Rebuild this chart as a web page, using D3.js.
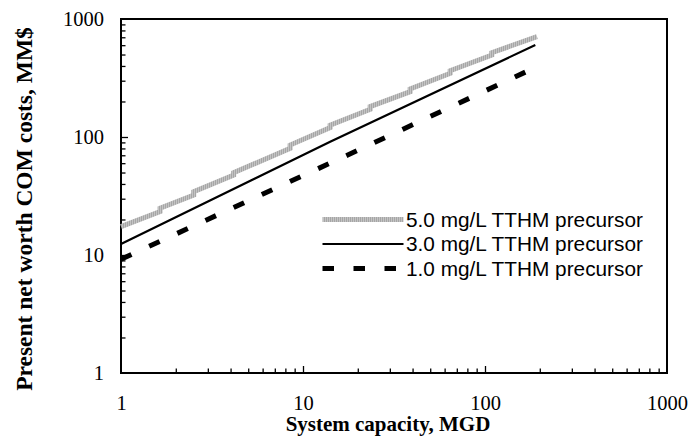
<!DOCTYPE html>
<html>
<head>
<meta charset="utf-8">
<script src="https://cdn.jsdelivr.net/npm/d3@7"></script>
<style>
  body { margin: 0; background: #fff; }
  .tickText { font-family: "Times New Roman", "Liberation Serif", serif; font-size: 20.5px; fill: #000; }
  .aText { font-family: "Times New Roman", "Liberation Serif", serif; font-weight: bold; fill: #000; }
  .legendText { font-family: Arial, "Liberation Sans", sans-serif; font-size: 20.8px; fill: #000; }
</style>
</head>
<body>
<div id="chart"></div>
<script>
// Data (capacity in MGD, cost in MM$)
// ==============================
var capacity5 = [1, 1.64, 1.64, 2.51, 2.51, 4.16, 4.16, 8.5, 8.5, 14.1, 14.1, 23.4, 23.4, 38.8, 38.8, 64.4, 64.4, 109, 109, 193];
var cost5 = [17.4, 23.3, 24.9, 32.2, 34.4, 47.6, 49.8, 80.2, 85.5, 120, 126, 172, 181, 242, 255, 347, 365, 495, 518, 708];

var capacity3 = [1, 14.1, 189];
var cost3 = [12.4, 91, 602];

var capacity1 = [1, 17.5, 190];
var cost1 = [9.2, 70, 390];

var seriesLabels = ["5.0 mg/L TTHM precursor", "3.0 mg/L TTHM precursor", "1.0 mg/L TTHM precursor"];
var xTickLabels = [1, 10, 100, 1000];
var yTickLabels = [1, 10, 100, 1000];

// SVG area
// ==============================
var svgWidth = 699;
var svgHeight = 440;

var margin = { top: 19, right: 32, bottom: 67, left: 121 };
var width = svgWidth - margin.left - margin.right;
var height = svgHeight - margin.top - margin.bottom;

var svg = d3.select("#chart")
  .append("svg")
  .attr("width", svgWidth)
  .attr("height", svgHeight);

var chartGroup = svg.append("g")
  .attr("transform", `translate(${margin.left}, ${margin.top})`);

// gray hatched stroke for the 5.0 series
var defs = svg.append("defs");
var pat = defs.append("pattern")
  .attr("id", "hatch")
  .attr("patternUnits", "userSpaceOnUse")
  .attr("width", 2)
  .attr("height", 2);
pat.append("rect").attr("width", 2).attr("height", 2).attr("fill", "#c4c4c4");
pat.append("rect").attr("width", 1).attr("height", 2).attr("fill", "#a6a6a6");

// Scales
// ==============================
var xScale = d3.scaleLog().domain([1, 1000]).range([0, width]);
var yScale = d3.scaleLog().domain([1, 1000]).range([height, 0]);

var isMajor = d => xTickLabels.indexOf(d) >= 0;

// Axes (ticks point inward)
// ==============================
var xAxis = d3.axisBottom(xScale)
  .tickValues(xScale.ticks())
  .tickSizeInner(-7)
  .tickSizeOuter(0)
  .tickPadding(22.5)
  .tickFormat(d => isMajor(d) ? d : "");

var yAxis = d3.axisLeft(yScale)
  .tickValues(yScale.ticks())
  .tickSizeInner(-7)
  .tickSizeOuter(0)
  .tickPadding(17)
  .tickFormat(d => yTickLabels.indexOf(d) >= 0 ? d : "");

var xg = chartGroup.append("g")
  .attr("transform", `translate(0, ${height})`)
  .call(xAxis);

var yg = chartGroup.append("g")
  .call(yAxis);

[xg, yg].forEach(function(g) {
  g.select(".domain").remove();
  g.selectAll(".tick line").attr("stroke", "#000").attr("stroke-width", 1.3);
  g.selectAll(".tick text").attr("class", "tickText").attr("font-size", null).attr("font-family", null);
});
xg.selectAll(".tick line").filter(d => !isMajor(d)).attr("y2", -4.5);
yg.selectAll(".tick line").filter(d => !isMajor(d)).attr("x2", 4.5);
// the end ticks sit on the frame corners
xg.selectAll(".tick line").filter(d => d === 1000 || d === 1).remove();
yg.selectAll(".tick line").filter(d => d === 1000 || d === 1).remove();

// frame
chartGroup.append("rect")
  .attr("width", width)
  .attr("height", height)
  .attr("fill", "none")
  .attr("stroke", "#000")
  .attr("stroke-width", 2);

// Lines
// ==============================
function toPoints(xs, ys) {
  return xs.map((x, i) => [x, ys[i]]);
}

var line = d3.line()
  .x(d => xScale(d[0]))
  .y(d => yScale(d[1]));

var series = [
  { pts: toPoints(capacity5, cost5), stroke: "url(#hatch)", width: 5, dash: null },
  { pts: toPoints(capacity3, cost3), stroke: "#000", width: 2.2, dash: null },
  { pts: toPoints(capacity1, cost1), stroke: "#000", width: 5, dash: "11.5,19.5" }
];

series.forEach(function(s) {
  chartGroup.append("path")
    .datum(s.pts)
    .attr("d", line)
    .attr("fill", "none")
    .attr("stroke", s.stroke)
    .attr("stroke-width", s.width)
    .attr("stroke-dasharray", s.dash);
});

// Legend
// ==============================
var legend = svg.append("g");
series.forEach(function(s, i) {
  var ly = 219.5 + i * 24.5;
  legend.append("line")
    .attr("x1", 322.5).attr("x2", 403.5)
    .attr("y1", ly).attr("y2", ly)
    .attr("stroke", s.stroke)
    .attr("stroke-width", s.width)
    .attr("stroke-dasharray", s.dash);
  legend.append("text")
    .attr("class", "legendText")
    .attr("x", 406)
    .attr("y", ly)
    .attr("dy", "0.36em")
    .text(seriesLabels[i]);
});

// Axis labels
// ==============================
svg.append("text")
  .attr("class", "aText")
  .attr("transform", "translate(32, 209) rotate(-90)")
  .attr("text-anchor", "middle")
  .attr("font-size", "23.5px")
  .text("Present net worth COM costs, MM$");

svg.append("text")
  .attr("class", "aText")
  .attr("x", 388)
  .attr("y", 431)
  .attr("text-anchor", "middle")
  .attr("font-size", "21px")
  .text("System capacity, MGD");
</script>
</body>
</html>
